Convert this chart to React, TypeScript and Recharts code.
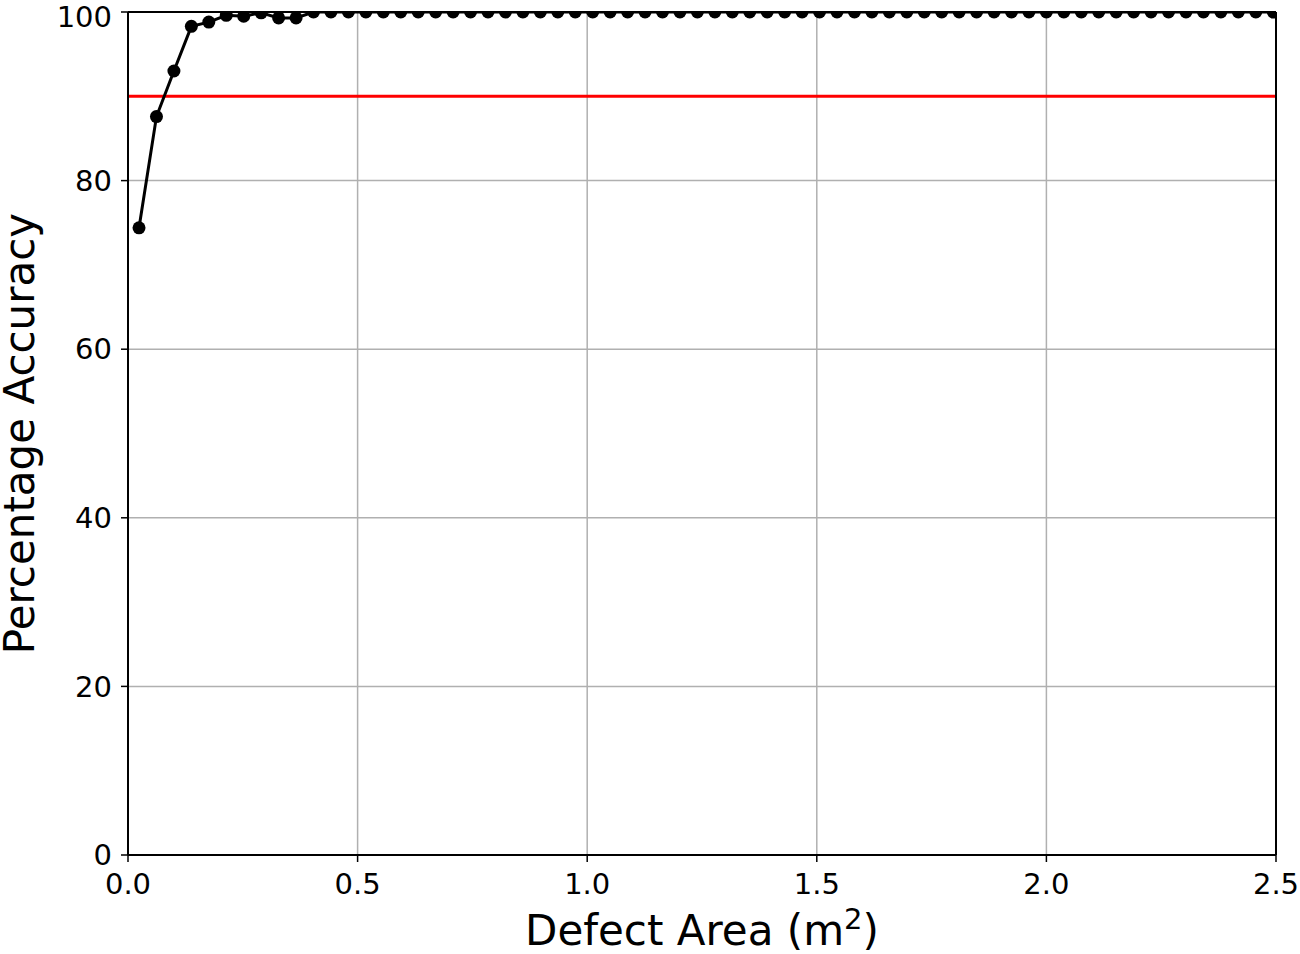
import { LineChart, Line, XAxis, YAxis, CartesianGrid, ReferenceLine } from "recharts";

const defectAreas = [
  0.024, 0.062, 0.1, 0.138, 0.176, 0.214, 0.252, 0.29, 0.328, 0.366, 0.404,
  0.442, 0.48, 0.518, 0.556, 0.594, 0.632, 0.67, 0.708, 0.746, 0.784, 0.822,
  0.86, 0.898, 0.936, 0.974, 1.012, 1.05, 1.088, 1.126, 1.164, 1.202, 1.24,
  1.278, 1.316, 1.354, 1.392, 1.43, 1.468, 1.506, 1.544, 1.582, 1.62, 1.658,
  1.696, 1.734, 1.772, 1.81, 1.848, 1.886, 1.924, 1.962, 2.0, 2.038, 2.076,
  2.114, 2.152, 2.19, 2.228, 2.266, 2.304, 2.342, 2.38, 2.418, 2.456, 2.494,
];

const accuracy = [
  74.4, 87.6, 93.0, 98.3, 98.8, 99.6, 99.5, 99.9, 99.3, 99.3, 100,
  100, 100, 100, 100, 100, 100, 100, 100, 100, 100, 100,
  100, 100, 100, 100, 100, 100, 100, 100, 100, 100, 100,
  100, 100, 100, 100, 100, 100, 100, 100, 100, 100, 100,
  100, 100, 100, 100, 100, 100, 100, 100, 100, 100, 100,
  100, 100, 100, 100, 100, 100, 100, 100, 100, 100, 100,
];

const xTicks = [0, 0.5, 1.0, 1.5, 2.0, 2.5];
const yTicks = [0, 20, 40, 60, 80, 100];
const threshold = 90;

const data = defectAreas.map((x, i) => ({ x, y: accuracy[i] }));

const font = "DejaVu Sans, sans-serif";

export default function App() {
  return (
    <div style={{ position: "absolute", left: 0, top: 0, width: 1300, height: 954, background: "#fff" }}>
      <LineChart
        width={1300}
        height={954}
        data={data}
        margin={{ top: 12, right: 24, left: 0, bottom: 0 }}
      >
        <CartesianGrid stroke="#b0b0b0" strokeWidth={1.5} />
        <XAxis
          dataKey="x"
          type="number"
          domain={[0, 2.5]}
          ticks={xTicks}
          tickFormatter={(v: number) => v.toFixed(1)}
          height={99}
          stroke="#000"
          strokeWidth={2}
          tickSize={7}
          tickLine={{ stroke: "#000", strokeWidth: 1.5 }}
          tick={{ fontSize: 29, fill: "#000", fontFamily: font }}
          tickMargin={11}
          allowDataOverflow
          label={({ viewBox }: any) => (
            <text
              x={viewBox.x + viewBox.width / 2}
              y={945}
              textAnchor="middle"
              fontSize={42}
              fontFamily={font}
              fill="#000"
            >
              Defect Area (m
              <tspan fontSize={29} dy={-16}>2</tspan>
              <tspan dy={16}>)</tspan>
            </text>
          )}
        />
        <YAxis
          dataKey="y"
          type="number"
          domain={[0, 100]}
          ticks={yTicks}
          width={128}
          stroke="#000"
          strokeWidth={2}
          tickSize={7}
          tickLine={{ stroke: "#000", strokeWidth: 1.5 }}
          tick={{ fontSize: 29, fill: "#000", fontFamily: font }}
          tickMargin={9}
          allowDataOverflow
          label={({ viewBox }: any) => (
            <text
              x={34}
              y={viewBox.y + viewBox.height / 2}
              transform={`rotate(-90, 34, ${viewBox.y + viewBox.height / 2})`}
              textAnchor="middle"
              fontSize={42}
              fontFamily={font}
              fill="#000"
            >
              Percentage Accuracy
            </text>
          )}
        />
        <ReferenceLine y={threshold} stroke="#ff0000" strokeWidth={3} />
        <Line
          dataKey="y"
          type="linear"
          stroke="#000"
          strokeWidth={3}
          dot={{ r: 6.5, fill: "#000", stroke: "#000", strokeWidth: 0 }}
          activeDot={false}
          isAnimationActive={false}
        />
        <ReferenceLine y={100} stroke="#000" strokeWidth={2} />
        <ReferenceLine x={2.5} stroke="#000" strokeWidth={2} />
      </LineChart>
    </div>
  );
}
